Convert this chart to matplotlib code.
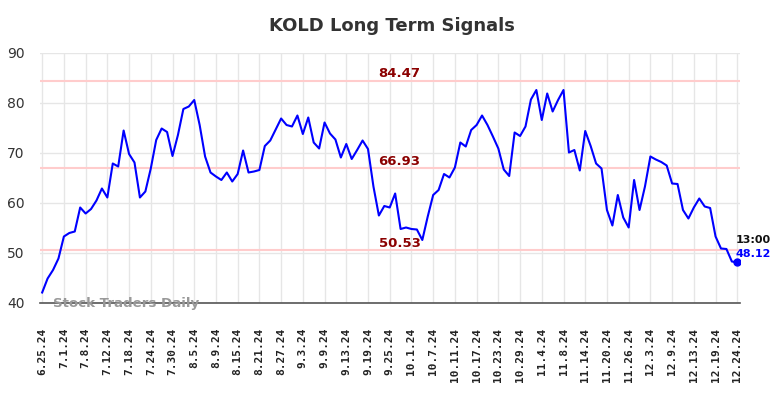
import matplotlib
matplotlib.use("Agg")
import matplotlib.pyplot as plt

tick_labels = ["6.25.24", "7.1.24", "7.8.24", "7.12.24", "7.18.24", "7.24.24", "7.30.24",
               "8.5.24", "8.9.24", "8.15.24", "8.21.24", "8.27.24", "9.3.24", "9.9.24",
               "9.13.24", "9.19.24", "9.25.24", "10.1.24", "10.7.24", "10.11.24", "10.17.24",
               "10.23.24", "10.29.24", "11.4.24", "11.8.24", "11.14.24", "11.20.24",
               "11.26.24", "12.3.24", "12.9.24", "12.13.24", "12.19.24", "12.24.24"]

values = [42.1, 44.9, 46.6, 48.9, 53.3, 54.0, 54.3, 59.1, 57.9, 58.8,
          60.5, 62.9, 61.1, 67.9, 67.3, 74.5, 69.8, 68.1, 61.1, 62.3,
          66.9, 72.6, 74.9, 74.2, 69.4, 73.6, 78.8, 79.3, 80.6, 75.6,
          69.3, 66.1, 65.3, 64.6, 66.1, 64.3, 65.8, 70.5, 66.1, 66.3,
          66.6, 71.4, 72.5, 74.7, 76.9, 75.6, 75.3, 77.5, 73.8, 77.1,
          72.1, 70.9, 76.1, 73.9, 72.7, 69.1, 71.8, 68.8, 70.6, 72.5,
          70.8, 63.3, 57.5, 59.4, 59.1, 61.9, 54.8, 55.1, 54.8, 54.7,
          52.6, 57.3, 61.6, 62.6, 65.8, 65.1, 67.1, 72.1, 71.3, 74.6,
          75.6, 77.5, 75.6, 73.3, 70.9, 66.7, 65.4, 74.1, 73.4, 75.3,
          80.7, 82.6, 76.6, 81.9, 78.3, 80.6, 82.6, 70.1, 70.6, 66.5,
          74.4, 71.4, 67.9, 66.9, 58.6, 55.5, 61.6, 57.1, 55.1, 64.6,
          58.6, 63.3, 69.3, 68.7, 68.2, 67.5, 63.9, 63.8, 58.6, 56.9,
          59.1, 60.9, 59.3, 59.0, 53.3, 50.9, 50.8, 48.3, 48.12]

signal_levels = [84.47, 66.93, 50.53]
last_time = "13:00"
last_value = 48.12
title = "KOLD Long Term Signals"
watermark = "Stock Traders Daily"
ticks_every = 4

fig = plt.figure(figsize=(7.84, 3.98), dpi=100)
ax = fig.add_axes([40 / 784, 1 - 303 / 398, 700 / 784, 250 / 398])

x = list(range(len(values)))
tick_pos = list(range(0, len(values), ticks_every))

ax.set_xlim(-0.4, len(values) - 1 + 0.5)
ax.set_ylim(40, 90)
ax.set_yticks([40, 50, 60, 70, 80, 90])
ax.set_xticks(tick_pos)
ax.set_xticklabels(tick_labels, rotation=90, fontfamily="DejaVu Sans Mono",
                   fontweight="bold", fontsize=8, color="#222222")
ax.tick_params(axis="y", length=0, pad=11, labelsize=10, labelcolor="#333333")
ax.tick_params(axis="x", length=0, pad=18)
ax.grid(True, color="#e6e6e6", linewidth=1)
ax.set_axisbelow(True)
for s in ["top", "right", "left"]:
    ax.spines[s].set_visible(False)
ax.spines["bottom"].set_color("#555555")
ax.spines["bottom"].set_linewidth(1.2)

mid = (len(values) - 1) / 2 + 1.8
for lvl in signal_levels:
    ax.axhline(lvl, color="#ffcccc", linewidth=1.5, zorder=1)
    ax.text(mid, lvl + 0.15, f"{lvl:.2f}", color="#8b0000", fontweight="bold",
            fontsize=9.5, ha="center", va="bottom")

ax.plot(x, values, color="#0000ff", linewidth=1.5, zorder=3)
ax.plot([x[-1]], [last_value], "o", color="#0000ff", markersize=5, zorder=4)
ax.text(x[-1] - 0.3, last_value + 0.7, f"{last_value:.2f}", color="#0000ff",
        fontweight="bold", fontsize=8, ha="left", va="bottom")
ax.text(x[-1] - 0.3, last_value + 3.4, last_time, color="#111111",
        fontweight="bold", fontsize=8, ha="left", va="bottom")

ax.text(2, 40.0, watermark, color="#999999", fontweight="bold", fontsize=9.6,
        ha="left", va="center")

fig.text(0.5, 1 - 26 / 398, title, ha="center", va="center", fontsize=13,
         fontweight="bold", color="#333333")

fig.savefig("out.png", dpi=100)
